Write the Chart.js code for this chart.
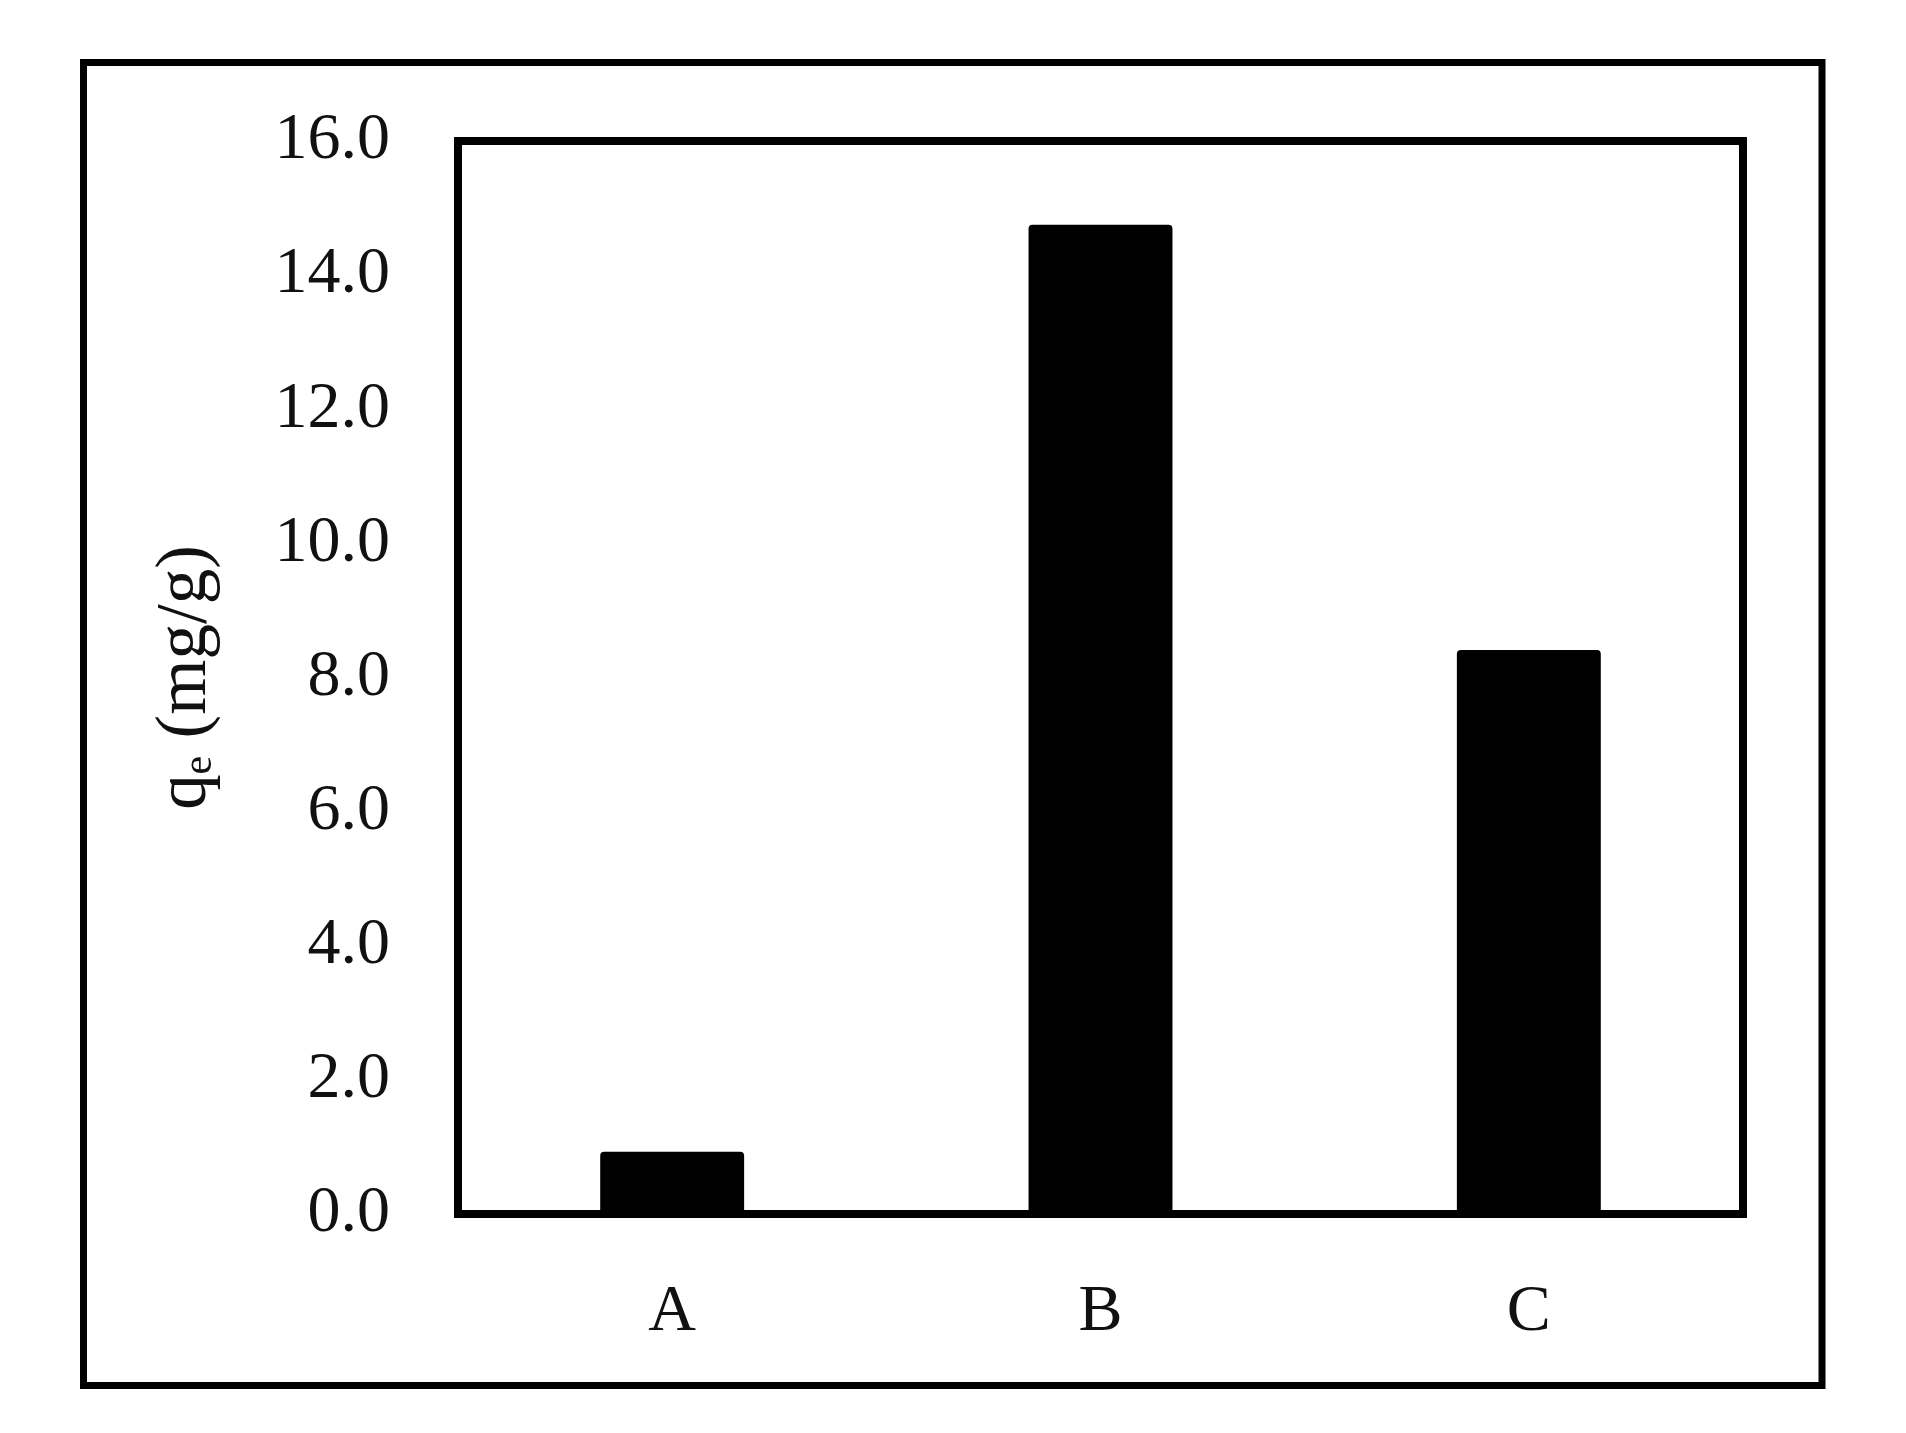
<!DOCTYPE html>
<html>
<head>
<meta charset="utf-8">
<script src="https://cdn.jsdelivr.net/npm/chart.js@4/dist/chart.umd.min.js"></script>
<style>
  html, body { margin: 0; padding: 0; background: #fff; }
  canvas { display: block; }
</style>
</head>
<body>
<canvas id="qeChart" width="1906" height="1433"></canvas>
<script>
const categories = ["A", "B", "C"];
const qeValues = [0.93, 14.75, 8.41];
const yMin = 0;
const yMax = 16;
const yStep = 2;
const yTitle = "qₑ (mg/g)";

const serif = "'Liberation Serif', 'DejaVu Serif', serif";

// frame around the plot area and the figure border
const framePlugin = {
  id: "frames",
  beforeDraw(chart) {
    const ctx = chart.ctx;
    ctx.save();
    ctx.fillStyle = "#fff";
    ctx.fillRect(0, 0, chart.width, chart.height);
    ctx.strokeStyle = "#000";
    ctx.lineWidth = 7;
    ctx.strokeRect(83.5, 62.5, 1738.5, 1323);
    ctx.restore();
  },
  afterDatasetsDraw(chart) {
    const { left, top, right, bottom } = chart.chartArea;
    const ctx = chart.ctx;
    ctx.save();
    ctx.strokeStyle = "#000";
    ctx.lineWidth = 8;
    ctx.lineJoin = "miter";
    ctx.strokeRect(left, top, right - left, bottom - top);
    ctx.restore();
  },
};

new Chart(document.getElementById("qeChart"), {
  type: "bar",
  data: {
    labels: categories,
    datasets: [
      {
        data: qeValues,
        backgroundColor: "#000",
        borderWidth: 0,
        borderRadius: 4,
        borderSkipped: "bottom",
        barPercentage: 1,
        categoryPercentage: 0.336,
      },
    ],
  },
  options: {
    responsive: false,
    animation: false,
    devicePixelRatio: 1,
    layout: {
      padding: { left: 100, top: 141, right: 163, bottom: 69 },
    },
    plugins: {
      legend: { display: false },
      tooltip: { enabled: false },
    },
    scales: {
      x: {
        grid: { display: false, drawTicks: false },
        border: { display: false },
        ticks: {
          padding: 59,
          color: "#111",
          font: { family: serif, size: 66 },
        },
        afterFit(scale) {
          scale.height = 150;
        },
      },
      y: {
        min: yMin,
        max: yMax,
        grid: { display: false, drawTicks: false },
        border: { display: false },
        ticks: {
          stepSize: yStep,
          padding: 68,
          color: "#111",
          font: { family: serif, size: 66 },
          callback: (value) => Number(value).toFixed(1),
        },
        title: {
          display: true,
          text: yTitle,
          color: "#111",
          padding: { top: 44, bottom: 0 },
          font: { family: serif, size: 71 },
        },
        afterFit(scale) {
          scale.width = 358;
        },
      },
    },
  },
  plugins: [framePlugin],
});
</script>
</body>
</html>
